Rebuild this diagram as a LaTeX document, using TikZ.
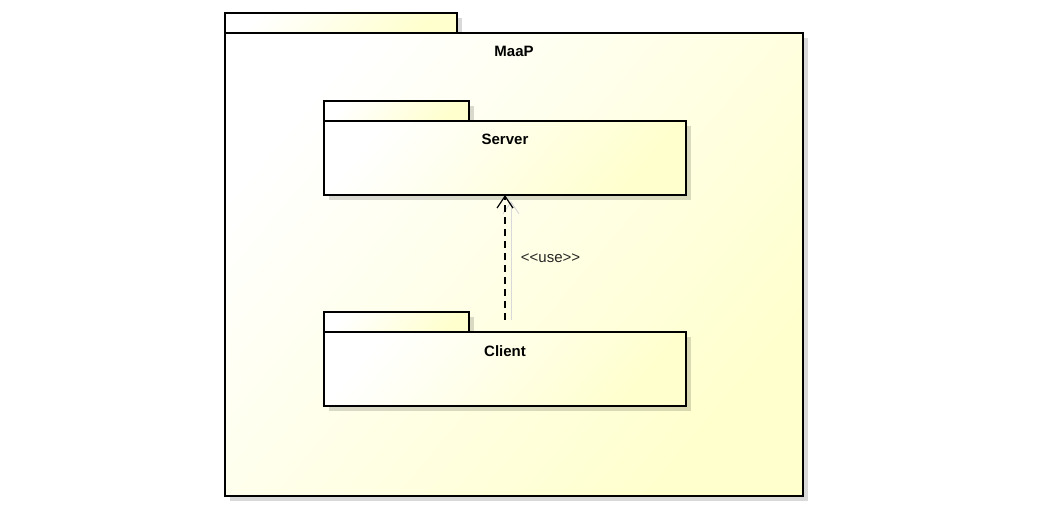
\documentclass[tikz,border=0pt]{standalone}
\usepackage{fontspec}
\setmainfont{Liberation Sans}
\usetikzlibrary{positioning}
\usetikzlibrary{shadows}
\usetikzlibrary{arrows.meta}

\definecolor{pkgYellow}{RGB}{255,255,205}

\begin{document}
\begin{tikzpicture}[%%
  x=1pt,y=-1pt,%%
  pkgDecorate/.style={%%
    draw=black,line width=2pt,rectangle,inner sep=0pt,outer sep=0pt,%%
    top color=white,bottom color=pkgYellow,shading angle=50,%%
    general shadow={fill=black,opacity=0.15,shadow xshift=5pt,shadow yshift=-5pt}%%
  },%%
  tabDecorate/.style={pkgDecorate,minimum height=20pt,anchor=south west},%%
  titleDecorate/.style={inner sep=0pt,font=\fontsize{15}{15}\selectfont\bfseries},%%
  useDecorate/.style={%%
    dashed,dash pattern=on 7pt off 5pt,line width=1.2pt,%%
    -{Straight Barb[length=12pt,width=16pt,line width=1.2pt]}%%
  }%%
]
\useasboundingbox (0,0) rectangle (1038,510);
%%
%% Outer package.
\node[tabDecorate,minimum width=232pt] (maapTab) at (225,33) {};
\node[pkgDecorate,minimum width=578pt,minimum height=463pt,anchor=north west]
  (maap) at (225,33) {};
\node[titleDecorate,below=13pt of maap.north] (maapTitle) {MaaP};
%%
%% Inner packages.
\foreach \name/\y/\txt in {server/121/Server,client/332/Client} {
  \node[tabDecorate,minimum width=145pt] (\name Tab) at (324,\y) {};
  \node[pkgDecorate,minimum width=362pt,minimum height=74pt,anchor=north west]
    (\name) at (324,\y) {};
  \node[titleDecorate,below=13pt of \name.north] (\name Title) {\txt};
}
%%
%% Dependency.
\draw[black!15,line width=1pt,-{Straight Barb[length=12pt,width=16pt]}]
  ([xshift=6pt,yshift=12pt]client.north) -- ([xshift=6pt,yshift=-6pt]server.south);
\draw[useDecorate,shorten <=12pt] (client.north) -- (server.south)
  node[midway,right=12pt,yshift=5pt,text=black!85,font=\fontsize{15}{15}\selectfont]
  (useLabel) {{<}{<}use{>}{>}};
\end{tikzpicture}
\end{document}
